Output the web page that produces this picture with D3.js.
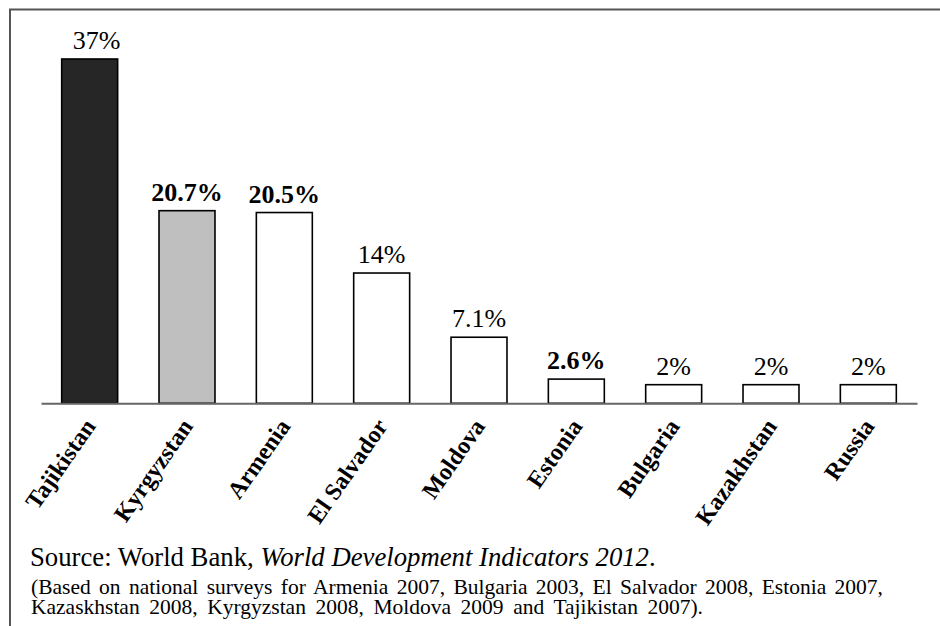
<!DOCTYPE html>
<html><head><meta charset="utf-8">
<script src="https://cdn.jsdelivr.net/npm/d3@7"></script>
<style>
html,body{margin:0;padding:0;background:#fff;}
svg{display:block;}
svg text{font-family:"Liberation Serif","Times New Roman",Times,Tinos,serif;}
</style></head>
<body><svg id="c" width="940" height="626"></svg>
<script>
const categories = ["Tajikistan","Kyrgyzstan","Armenia","El Salvador","Moldova","Estonia","Bulgaria","Kazakhstan","Russia"];
const values = [37, 20.7, 20.5, 14, 7.1, 2.6, 2, 2, 2];
const valueLabels = ["37%","20.7%","20.5%","14%","7.1%","2.6%","2%","2%","2%"];
const sourceLine = ["Source: World Bank, ", "World Development Indicators 2012", "."];
const noteLines = [
  "(Based on national surveys for Armenia 2007, Bulgaria 2003, El Salvador 2008, Estonia 2007,",
  "Kazaskhstan 2008, Kyrgyzstan 2008, Moldova 2009 and Tajikistan 2007)."
];

const fills = {Tajikistan:"#262626", Kyrgyzstan:"#bfbfbf"};
const boldSet = new Set(["Kyrgyzstan","Armenia","Estonia"]);

const svg = d3.select("#c");
svg.append("path").attr("d","M10,626V9.5H940").attr("fill","none").attr("stroke","#555").attr("stroke-width",2);

const x = d3.scaleBand().domain(categories).range([41,917]).paddingInner(0.425).paddingOuter(0.2125);
const y = d3.scaleLinear().domain([0,37]).range([403.3,59]);

const g = svg.append("g");
g.selectAll("rect.bar").data(categories).join("rect")
  .attr("class","bar")
  .attr("x", d=>x(d))
  .attr("width", x.bandwidth())
  .attr("y", (d,i)=>y(values[i]))
  .attr("height", (d,i)=>y(0)-y(values[i]))
  .attr("fill", d=>fills[d]||"#fff")
  .attr("stroke","#000").attr("stroke-width",1.6);

const axis = d3.axisBottom(x).tickSize(0).tickFormat("");
const ag = svg.append("g").attr("transform",`translate(0,${y(0)})`).call(axis);
ag.select(".domain").attr("stroke","#666").attr("stroke-width",2);

g.selectAll("text.val").data(categories).join("text")
  .attr("class","val")
  .attr("x", (d,i)=>x(d)+x.bandwidth()/2 + (i===0?7:0))
  .attr("y", (d,i)=>y(values[i])-10)
  .attr("text-anchor","middle")
  .attr("font-size",26)
  .attr("font-weight", d=>boldSet.has(d)?"bold":"normal")
  .text((d,i)=>valueLabels[i]);

g.selectAll("text.cat").data(categories).join("text")
  .attr("class","cat")
  .attr("transform", d=>`translate(${x(d)+x.bandwidth()/2+7},${y(0)+23}) rotate(-55)`)
  .attr("text-anchor","end")
  .attr("font-size",24)
  .attr("font-weight","bold")
  .text(d=>d);

function fit(sel, x0, x1){
  const w = sel.node().getComputedTextLength();
  const gaps = sel.text().split(" ").length-1;
  sel.attr("word-spacing", (x1-x0-w)/gaps);
}

const s = svg.append("text").attr("x",30).attr("y",566).attr("font-size",25.5);
s.append("tspan").text(sourceLine[0]);
s.append("tspan").attr("font-style","italic").text(sourceLine[1]);
s.append("tspan").text(sourceLine[2]);
const sw = s.node().getComputedTextLength();
s.attr("font-size", 25.5*626/sw);

const n1 = svg.append("text").attr("x",31).attr("y",593.5).attr("font-size",21.5).text(noteLines[0]);
fit(n1, 31, 883);
const n2 = svg.append("text").attr("x",31).attr("y",613.5).attr("font-size",21.5).text(noteLines[1]);
fit(n2, 31, 703);
</script></body></html>
